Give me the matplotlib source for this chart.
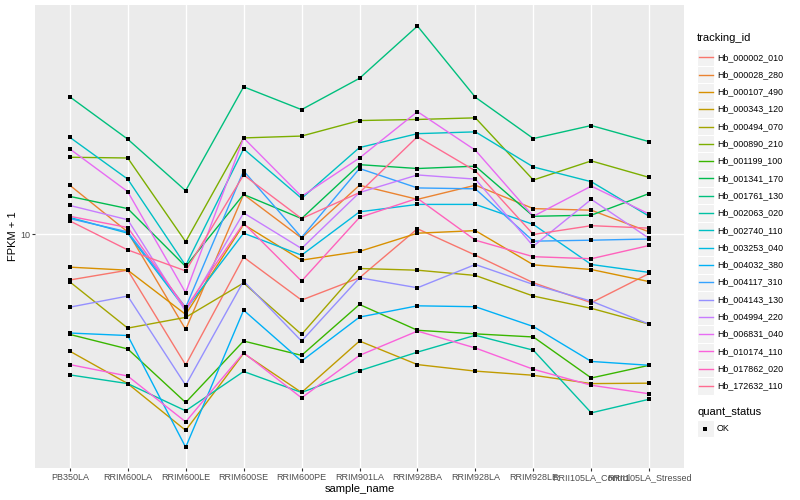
import matplotlib
matplotlib.use("Agg")
import matplotlib.pyplot as plt
from matplotlib.lines import Line2D
from matplotlib.patches import Rectangle
from matplotlib.ticker import NullLocator, FixedLocator
import numpy as np

plt.rcParams['font.family'] = ['Liberation Sans', 'DejaVu Sans']

samples = ["PB350LA", "RRIM600LA", "RRIM600LE", "RRIM600SE", "RRIM600PE",
           "RRIM901LA", "RRIM928BA", "RRIM928LA", "RRIM928LE",
           "RRII105LA_Control", "RRII105LA_Stressed"]

tracking_ids = ["Hb_000002_010", "Hb_000028_280", "Hb_000107_490", "Hb_000343_120",
                "Hb_000494_070", "Hb_000890_210", "Hb_001199_100", "Hb_001341_170",
                "Hb_001761_130", "Hb_002063_020", "Hb_002740_110", "Hb_003253_040",
                "Hb_004032_380", "Hb_004117_310", "Hb_004143_130", "Hb_004994_220",
                "Hb_006831_040", "Hb_010174_110", "Hb_017862_020", "Hb_172632_110"]

# FPKM + 1 values per sample (order of `samples`)
Hb_000002_010 = [7.05, 7.60, 3.67, 8.40, 6.04, 7.17, 10.45, 8.53, 6.90, 5.92, 7.41]
Hb_000028_280 = [14.6, 10.2, 4.82, 13.6, 9.73, 14.6, 13.1, 14.6, 12.2, 12.05, 10.2]
Hb_000107_490 = [7.78, 7.60, 5.41, 10.8, 8.21, 8.78, 10.1, 10.3, 7.92, 7.64, 6.96]
Hb_000343_120 = [4.08, 3.18, 2.22, 4.01, 2.97, 4.41, 3.68, 3.50, 3.39, 3.18, 3.19]
Hb_000494_070 = [6.95, 4.87, 5.29, 6.89, 4.64, 7.70, 7.60, 7.30, 6.23, 5.67, 5.02]
Hb_000890_210 = [18.1, 18.0, 9.46, 21.0, 21.3, 24.0, 24.2, 24.5, 15.2, 17.6, 15.5]
Hb_001199_100 = [4.64, 4.15, 2.75, 4.41, 3.95, 5.84, 4.79, 4.66, 4.55, 3.32, 3.66]
Hb_001341_170 = [13.4, 12.2, 7.82, 13.6, 11.3, 17.1, 16.6, 16.9, 11.5, 11.6, 13.7]
Hb_001761_130 = [28.8, 20.8, 14.0, 31.1, 26.1, 33.2, 49.6, 28.7, 20.9, 23.1, 20.4]
Hb_002063_020 = [3.40, 3.18, 2.58, 3.49, 2.97, 3.51, 4.05, 4.61, 4.11, 2.54, 2.82]
Hb_002740_110 = [21.1, 15.3, 7.88, 19.3, 13.2, 19.5, 21.7, 22.0, 16.8, 15.0, 11.5]
Hb_003253_040 = [11.4, 10.1, 5.62, 10.1, 8.53, 11.9, 12.6, 12.6, 10.8, 7.94, 7.47]
Hb_004032_380 = [4.69, 4.60, 1.95, 5.59, 3.78, 5.30, 5.78, 5.74, 4.93, 3.77, 3.66]
Hb_004117_310 = [11.3, 10.2, 5.71, 16.3, 9.77, 16.6, 14.3, 14.2, 9.50, 9.57, 9.66]
Hb_004143_130 = [5.72, 6.23, 3.14, 6.99, 4.41, 7.17, 6.64, 7.94, 6.81, 5.99, 5.02]
Hb_004994_220 = [12.5, 11.2, 5.54, 11.8, 8.98, 13.8, 15.8, 15.3, 9.14, 13.1, 9.70]
Hb_006831_040 = [19.3, 13.9, 6.39, 21.0, 13.4, 18.0, 25.7, 19.1, 11.5, 14.5, 11.7]
Hb_010174_110 = [3.68, 3.37, 2.37, 4.03, 2.85, 3.95, 4.76, 4.18, 3.55, 3.14, 2.94]
Hb_017862_020 = [11.5, 10.55, 5.67, 10.9, 6.99, 11.4, 13.2, 9.57, 8.43, 8.30, 9.19]
Hb_172632_110 = [11.1, 8.88, 7.56, 15.8, 11.3, 13.8, 21.2, 16.3, 10.0, 10.7, 10.5]

series = [Hb_000002_010, Hb_000028_280, Hb_000107_490, Hb_000343_120, Hb_000494_070,
          Hb_000890_210, Hb_001199_100, Hb_001341_170, Hb_001761_130, Hb_002063_020,
          Hb_002740_110, Hb_003253_040, Hb_004032_380, Hb_004117_310, Hb_004143_130,
          Hb_004994_220, Hb_006831_040, Hb_010174_110, Hb_017862_020, Hb_172632_110]

colors = ["#F8766D", "#EA8331", "#D89000", "#C09B00", "#A3A500", "#7CAE00", "#39B600",
          "#00BB4E", "#00BF7D", "#00C1A3", "#00BFC4", "#00BAE0", "#00B0F6", "#35A2FF",
          "#9590FF", "#C77CFF", "#E76BF3", "#FA62DB", "#FF62BC", "#FF6C91"]

W, H = 800, 500
fig = plt.figure(figsize=(W / 100, H / 100), dpi=100)
pl, pr, pt, pb = 35, 684, 5, 468.3
ax = fig.add_axes([pl / W, 1 - pb / H, (pr - pl) / W, (pb - pt) / H])
ax.set_facecolor('#EBEBEB')
for s in ax.spines.values():
    s.set_visible(False)

x = np.arange(len(samples))
for vals, c in zip(series, colors):
    ax.plot(x, vals, color=c, lw=1.0, zorder=2, solid_capstyle='butt')
for vals in series:
    ax.plot(x, vals, 's', color='black', ms=2.9, zorder=3, markeredgewidth=0)

ax.set_yscale('log')
allv = np.log10(np.concatenate([np.array(v) for v in series]))
lo, hi = allv.min(), allv.max()
span = hi - lo
ax.set_ylim(10 ** (lo - 0.05 * span), 10 ** (hi + 0.05 * span))
ax.set_xlim(-0.6, len(samples) - 0.4)
ax.yaxis.set_major_locator(FixedLocator([10]))
ax.yaxis.set_minor_locator(NullLocator())
ax.set_yticklabels(['10'])
ax.set_xticks(x)
ax.set_xticklabels(samples)
ax.grid(True, which='major', color='white', lw=1.0)
ax.set_axisbelow(True)
ax.tick_params(axis='both', length=2.0, width=0.8, color='#333333',
               labelsize=6.5, labelcolor='#4D4D4D', pad=1.6)
ax.set_xlabel('sample_name', fontsize=8, color='black', labelpad=1)
ax.set_ylabel('FPKM + 1', fontsize=8, color='black', labelpad=1.5)

# legends (drawn in figure pixel coordinates)
def fx(px):
    return px / W

def fy(py):
    return 1 - py / H

fig.text(fx(697), fy(38), 'tracking_id', fontsize=8, ha='left', va='center')
key_h = 17.3
y0 = 57.3
for i, (tid, c) in enumerate(zip(tracking_ids, colors)):
    yc = y0 + i * key_h
    fig.patches.append(Rectangle((fx(697), fy(yc + key_h / 2)), 16.5 / W, key_h / H,
                                 transform=fig.transFigure, facecolor='#F2F2F2',
                                 edgecolor='white', lw=0.8))
    fig.lines.append(Line2D([fx(698.5), fx(712.5)], [fy(yc), fy(yc)],
                            transform=fig.transFigure, color=c, lw=1.0))
    fig.text(fx(717), fy(yc), tid, fontsize=6.4, ha='left', va='center')

fig.text(fx(697), fy(412), 'quant_status', fontsize=8, ha='left', va='center')
yc = 428.5
fig.patches.append(Rectangle((fx(697), fy(yc + key_h / 2)), 16.5 / W, key_h / H,
                             transform=fig.transFigure, facecolor='#F2F2F2',
                             edgecolor='white', lw=0.8))
fig.lines.append(Line2D([fx(705.2)], [fy(yc)], transform=fig.transFigure,
                        marker='s', color='black', ms=2.9, markeredgewidth=0, lw=0))
fig.text(fx(717), fy(yc), 'OK', fontsize=6.4, ha='left', va='center')

fig.savefig('out.png', dpi=100)
